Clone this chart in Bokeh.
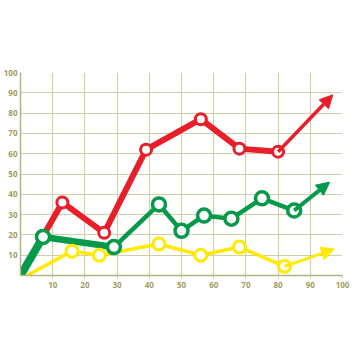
from bokeh.plotting import figure
from bokeh.models import FixedTicker, Arrow, NormalHead, Range1d
from bokeh.embed import file_html
from bokeh.resources import INLINE

# ---- data ----
red_x = [0, 13, 26, 39, 56, 68, 80]
red_y = [0, 36, 21, 62, 77, 62.5, 61]
red_end = (97, 89)

green_x = [0, 7, 29, 43, 50, 57, 65.5, 75, 85]
green_y = [0, 19, 14, 35, 22, 29.5, 28, 38, 32]
green_end = (96, 46)

yellow_x = [2, 16, 24.5, 43, 56, 68, 82]
yellow_y = [0, 12, 10, 15.5, 10, 14, 4.5]
yellow_end = (97.5, 13)

tick_vals = [10, 20, 30, 40, 50, 60, 70, 80, 90, 100]

RED = "#e81f2a"
GREEN = "#05994a"
YELLOW = "#ffea00"
GRID = "#cfcfaa"
AXIS = "#b3b386"
LABEL = "#9d9d62"

p = figure(frame_width=322, frame_height=203, output_backend="svg", toolbar_location=None,
           x_range=Range1d(0, 100), y_range=Range1d(0, 100),
           min_border_top=72, min_border_bottom=30, min_border_left=14, min_border_right=8)
p.outline_line_color = None
p.background_fill_color = "white"
p.border_fill_color = "white"

for ax in (p.xaxis[0], p.yaxis[0]):
    ax.ticker = FixedTicker(ticks=tick_vals)
    ax.axis_line_color = AXIS
    ax.axis_line_width = 1.5
    ax.major_tick_line_color = GRID
    ax.major_tick_in = 0
    ax.minor_tick_line_color = None
    ax.major_label_text_color = LABEL
    ax.major_label_text_font = "Open Sans"
    ax.major_label_text_font_size = "8px"
    ax.major_label_text_font_style = "bold"
p.xaxis.major_tick_out = 3
p.yaxis.major_tick_out = 0
p.xaxis.major_label_standoff = 3
p.yaxis.major_label_standoff = 3

p.xgrid.ticker = FixedTicker(ticks=tick_vals)
p.ygrid.ticker = FixedTicker(ticks=tick_vals)
p.grid.grid_line_color = GRID
p.grid.grid_line_width = 1.2

def arrow(x0, y0, x1, y1, color, lw):
    p.add_layout(Arrow(end=NormalHead(size=13, fill_color=color, line_color=color, line_width=1),
                       x_start=x0, y_start=y0, x_end=x1, y_end=y1,
                       line_color=color, line_width=lw))

# yellow
arrow(yellow_x[-1], yellow_y[-1], yellow_end[0], yellow_end[1], YELLOW, 3)
p.line(yellow_x, yellow_y, line_color=YELLOW, line_width=3.5, line_join="round")

# red
arrow(red_x[-1], red_y[-1], red_end[0], red_end[1], RED, 3.5)
p.line(red_x, red_y, line_color=RED, line_width=6, line_join="round")

# green
arrow(green_x[-1], green_y[-1], green_end[0], green_end[1], GREEN, 4)
p.line(green_x[:3], green_y[:3], line_color=GREEN, line_width=6.5, line_join="round")
p.line(green_x[:2], green_y[:2], line_color=GREEN, line_width=8)
p.line(green_x[2:], green_y[2:], line_color=GREEN, line_width=4.5, line_join="round")

# markers
p.scatter(yellow_x[1:], yellow_y[1:], size=12, fill_color="white", line_color=YELLOW, line_width=3)
p.scatter(red_x[1:], red_y[1:], size=11, fill_color="white", line_color=RED, line_width=3)
p.scatter(green_x[1:], green_y[1:], size=13, fill_color="white", line_color=GREEN, line_width=3.5)

open("out.html", "w").write(file_html(p, INLINE))
